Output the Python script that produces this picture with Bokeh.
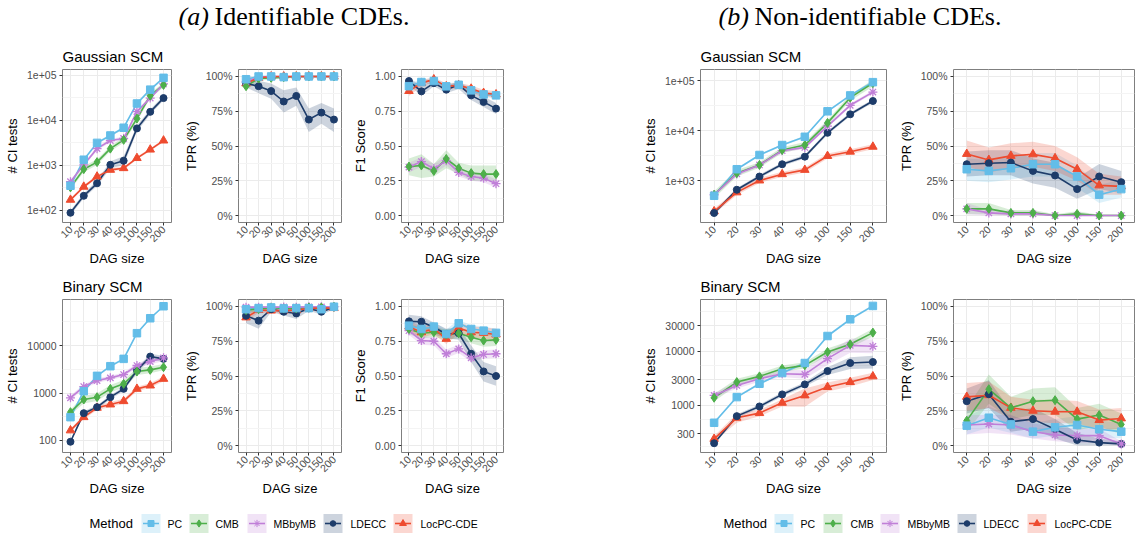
import math
from bokeh.plotting import figure
from bokeh.models import Range1d, FixedTicker
from bokeh.layouts import column, row
from bokeh.embed import file_html
from bokeh.resources import INLINE
from bokeh.core.properties import value

DAG_SIZES = ["10", "20", "30", "40", "50", "100", "150", "200"]
METHODS = ["PC", "CMB", "MBbyMB", "LDECC", "LocPC-CDE"]
X = [1, 2, 3, 4, 5, 6, 7, 8]

# ---------------- (a) Gaussian SCM : # CI tests ----------------
AG_CI_PC = [352, 1334, 3162, 4620, 6870, 23800, 48400, 88600]
AG_CI_PC_LO = [330, 1250, 2950, 4300, 6400, 22000, 45000, 83000]
AG_CI_PC_HI = [375, 1420, 3380, 4950, 7350, 25600, 52000, 94500]
AG_CI_CMB = [323, 822, 1180, 2355, 3690, 10960, 35500, 61600]
AG_CI_CMB_LO = [290, 700, 1020, 2050, 3200, 9400, 31000, 55000]
AG_CI_CMB_HI = [360, 960, 1370, 2700, 4250, 12800, 40500, 69000]
AG_CI_MB = [433, 1028, 2355, 3565, 3955, 15700, 31400, 64700]
AG_CI_MB_LO = [395, 940, 2150, 3250, 3600, 14300, 28800, 59000]
AG_CI_MB_HI = [475, 1120, 2580, 3900, 4350, 17200, 34300, 71000]
AG_CI_LD = [88, 210, 398, 1028, 1265, 6640, 15500, 31400]
AG_CI_LD_LO = [78, 185, 345, 860, 1000, 5700, 13600, 28000]
AG_CI_LD_HI = [99, 238, 460, 1230, 1600, 7700, 17700, 35200]
AG_CI_LOC = [171, 334, 562, 794, 865, 1452, 2239, 3565]
AG_CI_LOC_LO = [158, 310, 520, 735, 800, 1350, 2080, 3320]
AG_CI_LOC_HI = [185, 360, 607, 858, 935, 1560, 2410, 3830]

# ---------------- (a) Gaussian SCM : TPR ----------------
AG_TPR_PC = [98, 100, 100, 99.5, 100, 100, 100, 100]
AG_TPR_PC_LO = [96, 99, 99, 98.5, 99, 99.5, 99.5, 99.5]
AG_TPR_PC_HI = [100, 100, 100, 100, 100, 100, 100, 100]
AG_TPR_CMB = [93, 98.5, 99, 99.5, 100, 100, 100, 100]
AG_TPR_CMB_LO = [90, 97, 98, 98.5, 99, 99.5, 99.5, 99.5]
AG_TPR_CMB_HI = [96, 100, 100, 100, 100, 100, 100, 100]
AG_TPR_MB = [96, 99.5, 100, 100, 100, 100, 100, 100]
AG_TPR_MB_LO = [93, 98.5, 99, 99, 99.5, 99.5, 99.5, 99.5]
AG_TPR_MB_HI = [99, 100, 100, 100, 100, 100, 100, 100]
AG_TPR_LD = [95, 93, 89.5, 82, 86, 69, 74, 69]
AG_TPR_LD_LO = [92, 88, 84, 74, 79, 60, 66, 60]
AG_TPR_LD_HI = [98, 97, 95, 90, 92, 77, 81, 77]
AG_TPR_LOC = [95, 99, 100, 100, 100, 100, 100, 100]
AG_TPR_LOC_LO = [92, 98, 99, 99, 99.5, 99.5, 99.5, 99.5]
AG_TPR_LOC_HI = [98, 100, 100, 100, 100, 100, 100, 100]

# ---------------- (a) Gaussian SCM : F1 ----------------
AG_F1_PC = [0.93, 0.96, 0.967, 0.929, 0.94, 0.90, 0.871, 0.864]
AG_F1_PC_LO = [0.91, 0.94, 0.95, 0.91, 0.92, 0.88, 0.85, 0.845]
AG_F1_PC_HI = [0.95, 0.98, 0.985, 0.95, 0.96, 0.92, 0.89, 0.885]
AG_F1_CMB = [0.352, 0.36, 0.321, 0.407, 0.34, 0.305, 0.298, 0.298]
AG_F1_CMB_LO = [0.29, 0.27, 0.28, 0.34, 0.30, 0.25, 0.25, 0.25]
AG_F1_CMB_HI = [0.41, 0.44, 0.37, 0.47, 0.38, 0.36, 0.36, 0.36]
AG_F1_MB = [0.348, 0.388, 0.336, 0.395, 0.31, 0.281, 0.269, 0.229]
AG_F1_MB_LO = [0.31, 0.35, 0.30, 0.36, 0.28, 0.25, 0.24, 0.20]
AG_F1_MB_HI = [0.38, 0.42, 0.37, 0.43, 0.34, 0.31, 0.30, 0.26]
AG_F1_LD = [0.967, 0.893, 0.952, 0.905, 0.94, 0.864, 0.817, 0.769]
AG_F1_LD_LO = [0.94, 0.86, 0.93, 0.88, 0.91, 0.83, 0.78, 0.73]
AG_F1_LD_HI = [0.99, 0.93, 0.975, 0.93, 0.965, 0.90, 0.855, 0.81]
AG_F1_LOC = [0.895, 0.952, 0.979, 0.929, 0.936, 0.912, 0.881, 0.871]
AG_F1_LOC_LO = [0.86, 0.93, 0.96, 0.91, 0.915, 0.89, 0.855, 0.845]
AG_F1_LOC_HI = [0.93, 0.975, 0.995, 0.95, 0.955, 0.935, 0.905, 0.895]

# ---------------- (a) Binary SCM : # CI tests ----------------
AB_CI_PC = [310, 1094, 2298, 3673, 5240, 18200, 37600, 67300]
AB_CI_PC_LO = [295, 1040, 2180, 3490, 4980, 17300, 35700, 64000]
AB_CI_PC_HI = [326, 1150, 2420, 3860, 5500, 19100, 39500, 70700]
AB_CI_CMB = [395, 730, 817, 1224, 1560, 2835, 3075, 3500]
AB_CI_CMB_LO = [350, 600, 680, 1020, 1300, 2400, 2600, 3000]
AB_CI_CMB_HI = [445, 880, 980, 1470, 1870, 3350, 3630, 4080]
AB_CI_MB = [791, 1370, 1833, 2085, 2450, 3795, 4605, 5500]
AB_CI_MB_LO = [700, 1230, 1650, 1880, 2200, 3400, 4000, 4700]
AB_CI_MB_HI = [890, 1520, 2030, 2310, 2720, 4230, 5300, 6400]
AB_CI_LD = [94, 376, 503, 817, 1224, 2978, 5865, 5240]
AB_CI_LD_LO = [88, 340, 455, 740, 1100, 2650, 5100, 4500]
AB_CI_LD_HI = [101, 415, 555, 900, 1360, 3350, 6750, 6100]
AB_CI_LOC = [163, 310, 488, 573, 673, 1224, 1439, 1987]
AB_CI_LOC_LO = [150, 280, 440, 510, 600, 1100, 1280, 1780]
AB_CI_LOC_HI = [177, 343, 540, 643, 755, 1360, 1620, 2220]

# ---------------- (a) Binary SCM : TPR ----------------
AB_TPR_PC = [98, 98.8, 99.3, 98.6, 98.8, 98.8, 98, 99.8]
AB_TPR_PC_LO = [96.5, 97.5, 98.5, 97.5, 97.5, 97.5, 97, 99]
AB_TPR_PC_HI = [99.5, 100, 100, 99.5, 100, 100, 99, 100]
AB_TPR_CMB = [97.4, 98, 99.3, 98.6, 98.6, 99.3, 99.3, 99.8]
AB_TPR_CMB_LO = [95.5, 96, 98.5, 97.5, 97.5, 98.5, 98.5, 99]
AB_TPR_CMB_HI = [99, 99.5, 100, 99.5, 99.5, 100, 100, 100]
AB_TPR_MB = [99.5, 99.5, 99.5, 99.6, 99.5, 99.7, 99.7, 99.8]
AB_TPR_MB_LO = [98.5, 98.5, 98.5, 98.8, 98.5, 99, 99, 99.3]
AB_TPR_MB_HI = [100, 100, 100, 100, 100, 100, 100, 100]
AB_TPR_LD = [93.3, 89.8, 98, 96.2, 95, 98.6, 96.2, 99.3]
AB_TPR_LD_LO = [88, 84, 96, 93.5, 91, 97, 94, 98]
AB_TPR_LD_HI = [98, 96, 100, 98.5, 98.5, 100, 98.5, 100]
AB_TPR_LOC = [92.1, 97.4, 97, 97, 97.4, 98.6, 98.8, 98.8]
AB_TPR_LOC_LO = [89, 95.5, 95.5, 95.5, 96, 97.5, 97.8, 97.8]
AB_TPR_LOC_HI = [95, 99, 98.5, 98.5, 98.8, 99.6, 99.7, 99.7]

# ---------------- (a) Binary SCM : F1 ----------------
AB_F1_PC = [0.862, 0.838, 0.855, 0.802, 0.879, 0.838, 0.826, 0.81]
AB_F1_PC_LO = [0.83, 0.81, 0.825, 0.77, 0.85, 0.81, 0.795, 0.78]
AB_F1_PC_HI = [0.895, 0.865, 0.885, 0.835, 0.905, 0.865, 0.855, 0.84]
AB_F1_CMB = [0.838, 0.807, 0.814, 0.798, 0.807, 0.779, 0.755, 0.76]
AB_F1_CMB_LO = [0.80, 0.77, 0.78, 0.76, 0.77, 0.735, 0.71, 0.715]
AB_F1_CMB_HI = [0.875, 0.845, 0.85, 0.835, 0.845, 0.82, 0.80, 0.805]
AB_F1_MB = [0.826, 0.755, 0.75, 0.66, 0.695, 0.631, 0.655, 0.66]
AB_F1_MB_LO = [0.795, 0.725, 0.72, 0.63, 0.665, 0.60, 0.625, 0.63]
AB_F1_MB_HI = [0.855, 0.785, 0.78, 0.69, 0.725, 0.66, 0.685, 0.69]
AB_F1_LD = [0.893, 0.89, 0.85, 0.802, 0.807, 0.66, 0.533, 0.5]
AB_F1_LD_LO = [0.845, 0.85, 0.80, 0.77, 0.76, 0.60, 0.46, 0.43]
AB_F1_LD_HI = [0.94, 0.93, 0.885, 0.84, 0.85, 0.72, 0.60, 0.57]
AB_F1_LOC = [0.855, 0.814, 0.838, 0.767, 0.845, 0.814, 0.81, 0.798]
AB_F1_LOC_LO = [0.815, 0.775, 0.80, 0.73, 0.805, 0.775, 0.77, 0.755]
AB_F1_LOC_HI = [0.895, 0.855, 0.875, 0.805, 0.885, 0.855, 0.85, 0.84]

# ---------------- (b) Gaussian SCM : # CI tests ----------------
BG_CI_PC = [495, 1679, 3236, 5115, 7485, 24200, 50300, 92600]
BG_CI_PC_LO = [470, 1600, 3080, 4870, 7120, 23000, 47800, 88000]
BG_CI_PC_HI = [520, 1760, 3400, 5370, 7860, 25400, 52800, 97300]
BG_CI_CMB = [519, 1400, 2047, 4065, 5115, 14200, 45300, 88500]
BG_CI_CMB_LO = [440, 1200, 1800, 3550, 4450, 12400, 39500, 76000]
BG_CI_CMB_HI = [610, 1630, 2330, 4650, 5880, 16300, 52000, 103000]
BG_CI_MB = [519, 1356, 2047, 3945, 4590, 12200, 31900, 58700]
BG_CI_MB_LO = [480, 1250, 1890, 3650, 4250, 11300, 29500, 54300]
BG_CI_MB_HI = [560, 1470, 2210, 4260, 4960, 13200, 34500, 63400]
BG_CI_LD = [224, 653, 1200, 2113, 3000, 8990, 21100, 38900]
BG_CI_LD_LO = [205, 600, 1100, 1940, 2750, 8250, 19400, 35700]
BG_CI_LD_HI = [244, 710, 1310, 2300, 3270, 9800, 23000, 42400]
BG_CI_LOC = [242, 578, 1000, 1337, 1629, 3090, 3767, 4735]
BG_CI_LOC_LO = [215, 515, 890, 1190, 1450, 2750, 3350, 4220]
BG_CI_LOC_HI = [272, 650, 1120, 1500, 1830, 3470, 4230, 5320]

# ---------------- (b) Gaussian SCM : TPR ----------------
BG_TPR_PC = [33.3, 32.1, 34, 36.9, 36.9, 28.1, 15, 19]
BG_TPR_PC_LO = [25, 24, 26, 28, 28, 20, 9, 13]
BG_TPR_PC_HI = [41, 40, 42, 45, 45, 36, 22, 26]
BG_TPR_CMB = [4.8, 4.8, 1.9, 1.9, 0, 1.2, 0, 0]
BG_TPR_CMB_LO = [1, 1, 0, 0, 0, 0, 0, 0]
BG_TPR_CMB_HI = [9, 9, 4, 4, 1, 3, 0.5, 0.5]
BG_TPR_MB = [4.8, 1.9, 1.2, 1.2, 0, 0, 0, 0]
BG_TPR_MB_LO = [1, 0, 0, 0, 0, 0, 0, 0]
BG_TPR_MB_HI = [9, 4, 3, 3, 0.5, 0.5, 0.5, 0.5]
BG_TPR_LD = [36.9, 37.6, 38.1, 32.1, 28.8, 19, 28.1, 24]
BG_TPR_LD_LO = [28, 29, 29, 23, 20, 12, 19, 16]
BG_TPR_LD_HI = [46, 47, 47, 41, 38, 27, 37, 32]
BG_TPR_LOC = [44.3, 40, 42.9, 44, 41.2, 33.3, 21.7, 21]
BG_TPR_LOC_LO = [35, 31, 34, 35, 32, 25, 15, 15]
BG_TPR_LOC_HI = [54, 49, 52, 53, 50, 42, 30, 28]

# ---------------- (b) Binary SCM : # CI tests ----------------
BB_CI_PC = [478, 1426, 2518, 3970, 6080, 19200, 39100, 69100]
BB_CI_PC_LO = [455, 1360, 2400, 3780, 5790, 18300, 37200, 65800]
BB_CI_PC_HI = [502, 1500, 2640, 4170, 6380, 20200, 41100, 72600]
BB_CI_CMB = [1387, 2704, 3443, 4775, 5505, 9730, 13480, 22180]
BB_CI_CMB_LO = [1180, 2350, 3000, 4150, 4800, 8400, 11600, 18800]
BB_CI_CMB_HI = [1630, 3100, 3950, 5500, 6300, 11300, 15700, 26200]
BB_CI_MB = [1531, 2344, 3118, 3855, 3750, 7315, 12900, 12380]
BB_CI_MB_LO = [1380, 2050, 2750, 3350, 3100, 5600, 9400, 9200]
BB_CI_MB_HI = [1700, 2700, 3550, 4450, 4500, 9500, 17000, 16500]
BB_CI_LD = [200, 634, 958, 1599, 2449, 4325, 6080, 6345]
BB_CI_LD_LO = [185, 585, 880, 1460, 2230, 3650, 4700, 4800]
BB_CI_LD_HI = [216, 688, 1040, 1750, 2690, 5100, 7800, 8300]
BB_CI_LOC = [241, 591, 721, 1120, 1531, 2187, 2704, 3443]
BB_CI_LOC_LO = [215, 480, 630, 960, 950, 1800, 2250, 2950]
BB_CI_LOC_HI = [272, 700, 830, 1300, 2050, 2650, 3250, 4000]

# ---------------- (b) Binary SCM : TPR ----------------
BB_TPR_PC = [14.3, 20, 15.2, 10, 13.1, 14.8, 11.7, 10]
BB_TPR_PC_LO = [8, 13, 9, 5, 7, 8, 6, 5]
BB_TPR_PC_HI = [21, 28, 22, 16, 19, 21, 18, 16]
BB_TPR_CMB = [17.9, 40.5, 27.1, 31.9, 32.6, 19, 21.9, 15.2]
BB_TPR_CMB_LO = [10, 30, 19, 22, 22, 11, 14, 8]
BB_TPR_CMB_HI = [27, 51, 35, 41, 42, 27, 30, 23]
BB_TPR_MB = [14.8, 15.5, 14.8, 10, 7.6, 7.1, 7.1, 1.2]
BB_TPR_MB_LO = [8, 9, 8, 5, 3, 2, 2, 0]
BB_TPR_MB_HI = [22, 22, 22, 16, 13, 12, 12, 3]
BB_TPR_LD = [31.9, 36.9, 17.1, 19, 11.7, 4, 2.1, 1.2]
BB_TPR_LD_LO = [23, 27, 10, 12, 5, 0, 0, 0]
BB_TPR_LD_HI = [41, 47, 25, 27, 19, 9, 5, 3]
BB_TPR_LOC = [35, 36.2, 27.1, 25, 24.3, 24.3, 18.3, 19.5]
BB_TPR_LOC_LO = [25, 27, 19, 17, 16, 16, 11, 12]
BB_TPR_LOC_HI = [45, 46, 35, 33, 33, 32, 26, 27]

# ---------------- axis ticks ----------------
TPR_TICKS = [0, 25, 50, 75, 100]
TPR_LABELS = ["0%", "25%", "50%", "75%", "100%"]
F1_TICKS = [0, 0.25, 0.5, 0.75, 1.0]
F1_LABELS = ["0.00", "0.25", "0.50", "0.75", "1.00"]
AG_CI_TICKS = [100, 1000, 10000, 100000]
AG_CI_LABELS = ["1e+02", "1e+03", "1e+04", "1e+05"]
AB_CI_TICKS = [100, 1000, 10000]
AB_CI_LABELS = ["100", "1000", "10000"]
BG_CI_TICKS = [1000, 10000, 100000]
BG_CI_LABELS = ["1e+03", "1e+04", "1e+05"]
BB_CI_TICKS = [300, 1000, 3000, 10000, 30000]
BB_CI_LABELS = ["300", "1000", "3000", "10000", "30000"]

COLORS = {"PC": "#63BDE8", "CMB": "#4DAF4A", "MBbyMB": "#C07FD8",
          "LDECC": "#1D3C6A", "LocPC-CDE": "#EE4B2F"}
MARKERS = {"PC": ("square", 7.5), "CMB": ("diamond", 9), "MBbyMB": ("asterisk", 9),
           "LDECC": ("circle", 7), "LocPC-CDE": ("triangle", 8.5)}

SANS = "Liberation Sans"
SERIF = "Liberation Serif"


def panel(w, h, left, right, top, bottom, yr, ylog, ticks, minor, labels, ylabel, title, series):
    kw = dict(width=w, height=h, output_backend="svg", toolbar_location=None,
              x_range=Range1d(0.4, 8.6), y_range=Range1d(yr[0], yr[1]),
              y_axis_type="log" if ylog else "linear",
              min_border_left=left, min_border_right=right,
              min_border_top=top, min_border_bottom=bottom)
    if title:
        kw["title"] = title
    p = figure(**kw)
    p.background_fill_color = "white"
    p.border_fill_color = "white"
    p.outline_line_color = "#7F7F7F"
    p.outline_line_width = 1
    xt = FixedTicker(ticks=X)
    p.xaxis.ticker = xt
    p.xgrid.ticker = xt
    p.xaxis.major_label_overrides = {x: s for x, s in zip(X, DAG_SIZES)}
    p.xaxis.major_label_orientation = math.pi / 4
    yt = FixedTicker(ticks=ticks, minor_ticks=minor)
    p.yaxis.ticker = yt
    p.ygrid.ticker = yt
    p.yaxis.major_label_overrides = {t: s for t, s in zip(ticks, labels)}
    p.xgrid.grid_line_color = "#EBEBEB"
    p.ygrid.grid_line_color = "#EBEBEB"
    p.ygrid.minor_grid_line_color = "#F4F4F4"
    p.xaxis.axis_label = "DAG size"
    p.yaxis.axis_label = ylabel
    for ax in (p.xaxis[0], p.yaxis[0]):
        ax.axis_line_color = None
        ax.major_tick_line_color = "#333333"
        ax.major_tick_out = 3
        ax.major_tick_in = 0
        ax.minor_tick_line_color = None
        ax.major_label_text_font = SANS
        ax.major_label_text_font_size = "10.5px"
        ax.major_label_text_color = "#4D4D4D"
        ax.major_label_standoff = 2
        ax.axis_label_text_font = SANS
        ax.axis_label_text_font_size = "13px"
        ax.axis_label_text_font_style = "normal"
        ax.axis_label_text_color = "black"
    p.xaxis.axis_label_standoff = 2
    p.yaxis.axis_label_standoff = 4
    if title:
        p.title.text_font = SANS
        p.title.text_font_size = "15px"
        p.title.text_font_style = "normal"
        p.title.text_color = "black"
        p.title.align = "left"
        p.title.standoff = 9
    for m, (mean, lo, hi) in zip(METHODS, series):
        p.varea(x=X, y1=lo, y2=hi, fill_color=COLORS[m], fill_alpha=0.22)
    for m, (mean, lo, hi) in zip(METHODS, series):
        p.line(X, mean, line_color=COLORS[m], line_width=1.6)
    for m, (mean, lo, hi) in reversed(list(zip(METHODS, series))):
        mk, sz = MARKERS[m]
        p.scatter(X, mean, marker=mk, size=sz, fill_color=COLORS[m],
                  line_color=COLORS[m], line_width=1.3 if mk == "asterisk" else 1)
    return p


TITLE_H = 38
ROW_H = 230
TOP = 31
BOT = 45
LEG_H = 38
TOTAL_W = 1136

LM = [10 ** 1.5, 10 ** 2.5, 10 ** 3.5, 10 ** 4.5, 10 ** 5.5]
TPR_MINOR = [12.5, 37.5, 62.5, 87.5]
F1_MINOR = [0.125, 0.375, 0.625, 0.875]
BB_MINOR = [173, 548, 1732, 5477, 17321, 54772]

a_g_ci = panel(180, ROW_H, 62, 9, TOP, BOT, (10 ** 1.728, 10 ** 5.133), True,
               AG_CI_TICKS, LM, AG_CI_LABELS, "# CI tests", "Gaussian SCM",
               [(AG_CI_PC, AG_CI_PC_LO, AG_CI_PC_HI), (AG_CI_CMB, AG_CI_CMB_LO, AG_CI_CMB_HI),
                (AG_CI_MB, AG_CI_MB_LO, AG_CI_MB_HI), (AG_CI_LD, AG_CI_LD_LO, AG_CI_LD_HI),
                (AG_CI_LOC, AG_CI_LOC_LO, AG_CI_LOC_HI)])
a_g_tpr = panel(170, ROW_H, 53, 9, TOP, BOT, (-5, 105), False,
                TPR_TICKS, TPR_MINOR, TPR_LABELS, "TPR (%)", None,
                [(AG_TPR_PC, AG_TPR_PC_LO, AG_TPR_PC_HI), (AG_TPR_CMB, AG_TPR_CMB_LO, AG_TPR_CMB_HI),
                 (AG_TPR_MB, AG_TPR_MB_LO, AG_TPR_MB_HI), (AG_TPR_LD, AG_TPR_LD_LO, AG_TPR_LD_HI),
                 (AG_TPR_LOC, AG_TPR_LOC_LO, AG_TPR_LOC_HI)])
a_g_f1 = panel(290, ROW_H, 46, 137, TOP, BOT, (-0.05, 1.05), False,
               F1_TICKS, F1_MINOR, F1_LABELS, "F1 Score", None,
               [(AG_F1_PC, AG_F1_PC_LO, AG_F1_PC_HI), (AG_F1_CMB, AG_F1_CMB_LO, AG_F1_CMB_HI),
                (AG_F1_MB, AG_F1_MB_LO, AG_F1_MB_HI), (AG_F1_LD, AG_F1_LD_LO, AG_F1_LD_HI),
                (AG_F1_LOC, AG_F1_LOC_LO, AG_F1_LOC_HI)])
b_g_ci = panel(255, ROW_H, 55, 9, TOP, BOT, (10 ** 2.16, 10 ** 5.22), True,
               BG_CI_TICKS, LM, BG_CI_LABELS, "# CI tests", "Gaussian SCM",
               [(BG_CI_PC, BG_CI_PC_LO, BG_CI_PC_HI), (BG_CI_CMB, BG_CI_CMB_LO, BG_CI_CMB_HI),
                (BG_CI_MB, BG_CI_MB_LO, BG_CI_MB_HI), (BG_CI_LD, BG_CI_LD_LO, BG_CI_LD_HI),
                (BG_CI_LOC, BG_CI_LOC_LO, BG_CI_LOC_HI)])
b_g_tpr = panel(241, ROW_H, 53, 2, TOP, BOT, (-5, 105), False,
                TPR_TICKS, TPR_MINOR, TPR_LABELS, "TPR (%)", None,
                [(BG_TPR_PC, BG_TPR_PC_LO, BG_TPR_PC_HI), (BG_TPR_CMB, BG_TPR_CMB_LO, BG_TPR_CMB_HI),
                 (BG_TPR_MB, BG_TPR_MB_LO, BG_TPR_MB_HI), (BG_TPR_LD, BG_TPR_LD_LO, BG_TPR_LD_HI),
                 (BG_TPR_LOC, BG_TPR_LOC_LO, BG_TPR_LOC_HI)])

a_b_ci = panel(180, ROW_H, 62, 9, TOP, BOT, (10 ** 1.747, 10 ** 4.97), True,
               AB_CI_TICKS, LM, AB_CI_LABELS, "# CI tests", "Binary SCM",
               [(AB_CI_PC, AB_CI_PC_LO, AB_CI_PC_HI), (AB_CI_CMB, AB_CI_CMB_LO, AB_CI_CMB_HI),
                (AB_CI_MB, AB_CI_MB_LO, AB_CI_MB_HI), (AB_CI_LD, AB_CI_LD_LO, AB_CI_LD_HI),
                (AB_CI_LOC, AB_CI_LOC_LO, AB_CI_LOC_HI)])
a_b_tpr = panel(170, ROW_H, 53, 9, TOP, BOT, (-5, 105), False,
                TPR_TICKS, TPR_MINOR, TPR_LABELS, "TPR (%)", None,
                [(AB_TPR_PC, AB_TPR_PC_LO, AB_TPR_PC_HI), (AB_TPR_CMB, AB_TPR_CMB_LO, AB_TPR_CMB_HI),
                 (AB_TPR_MB, AB_TPR_MB_LO, AB_TPR_MB_HI), (AB_TPR_LD, AB_TPR_LD_LO, AB_TPR_LD_HI),
                 (AB_TPR_LOC, AB_TPR_LOC_LO, AB_TPR_LOC_HI)])
a_b_f1 = panel(290, ROW_H, 46, 137, TOP, BOT, (-0.05, 1.05), False,
               F1_TICKS, F1_MINOR, F1_LABELS, "F1 Score", None,
               [(AB_F1_PC, AB_F1_PC_LO, AB_F1_PC_HI), (AB_F1_CMB, AB_F1_CMB_LO, AB_F1_CMB_HI),
                (AB_F1_MB, AB_F1_MB_LO, AB_F1_MB_HI), (AB_F1_LD, AB_F1_LD_LO, AB_F1_LD_HI),
                (AB_F1_LOC, AB_F1_LOC_LO, AB_F1_LOC_HI)])
b_b_ci = panel(255, ROW_H, 55, 9, TOP, BOT, (10 ** 2.13, 10 ** 4.958), True,
               BB_CI_TICKS, BB_MINOR, BB_CI_LABELS, "# CI tests", "Binary SCM",
               [(BB_CI_PC, BB_CI_PC_LO, BB_CI_PC_HI), (BB_CI_CMB, BB_CI_CMB_LO, BB_CI_CMB_HI),
                (BB_CI_MB, BB_CI_MB_LO, BB_CI_MB_HI), (BB_CI_LD, BB_CI_LD_LO, BB_CI_LD_HI),
                (BB_CI_LOC, BB_CI_LOC_LO, BB_CI_LOC_HI)])
b_b_tpr = panel(241, ROW_H, 53, 2, TOP, BOT, (-5, 105), False,
                TPR_TICKS, TPR_MINOR, TPR_LABELS, "TPR (%)", None,
                [(BB_TPR_PC, BB_TPR_PC_LO, BB_TPR_PC_HI), (BB_TPR_CMB, BB_TPR_CMB_LO, BB_TPR_CMB_HI),
                 (BB_TPR_MB, BB_TPR_MB_LO, BB_TPR_MB_HI), (BB_TPR_LD, BB_TPR_LD_LO, BB_TPR_LD_HI),
                 (BB_TPR_LOC, BB_TPR_LOC_LO, BB_TPR_LOC_HI)])


def blank(h):
    f = figure(width=TOTAL_W, height=h, x_range=Range1d(0, TOTAL_W), y_range=Range1d(0, h),
               x_axis_location=None, y_axis_location=None, min_border=0,
               output_backend="svg", toolbar_location=None)
    f.grid.visible = False
    f.outline_line_color = None
    f.background_fill_color = "white"
    f.border_fill_color = "white"
    return f


# group titles
tf = blank(TITLE_H)
ty = TITLE_H - 16
for x0, lab, x1, txt in [(178, "(a)", 214, "Identifiable CDEs."),
                         (718, "(b)", 754, "Non-identifiable CDEs.")]:
    tf.text(x=[x0], y=[ty], text=[lab], text_font=value(SERIF), text_font_size="26px",
            text_font_style="italic", text_baseline="middle", text_align="left", text_color="black")
    tf.text(x=[x1], y=[ty], text=[txt], text_font=value(SERIF), text_font_size="26px",
            text_font_style="normal", text_baseline="middle", text_align="left", text_color="black")

# legends
lf = blank(LEG_H)
yc = 13
for method_x, key_xs, label_xs in [(89, [141, 189, 247, 323, 393], [167, 215, 273, 350, 420]),
                                   (723, [774, 823, 880, 957, 1027], [800, 850, 907, 983, 1054])]:
    lf.text(x=[method_x], y=[yc], text=["Method"], text_font=value(SANS), text_font_size="13px",
            text_baseline="middle", text_align="left", text_color="black")
    for m, kx, lx in zip(METHODS, key_xs, label_xs):
        c = COLORS[m]
        lf.quad(left=[kx], right=[kx + 19], bottom=[yc - 9.5], top=[yc + 9.5],
                fill_color=c, fill_alpha=0.22, line_color=None)
        lf.line([kx + 1.5, kx + 17.5], [yc, yc], line_color=c, line_width=1.6)
        mk, sz = MARKERS[m]
        lf.scatter([kx + 9.5], [yc], marker=mk, size=sz * 0.8, fill_color=c, line_color=c)
        lf.text(x=[lx], y=[yc], text=[m], text_font=value(SANS), text_font_size="10.5px",
                text_baseline="middle", text_align="left", text_color="black")

layout = column(tf,
                row(a_g_ci, a_g_tpr, a_g_f1, b_g_ci, b_g_tpr),
                row(a_b_ci, a_b_tpr, a_b_f1, b_b_ci, b_b_tpr),
                lf)

open("out.html", "w").write(file_html(layout, INLINE))
